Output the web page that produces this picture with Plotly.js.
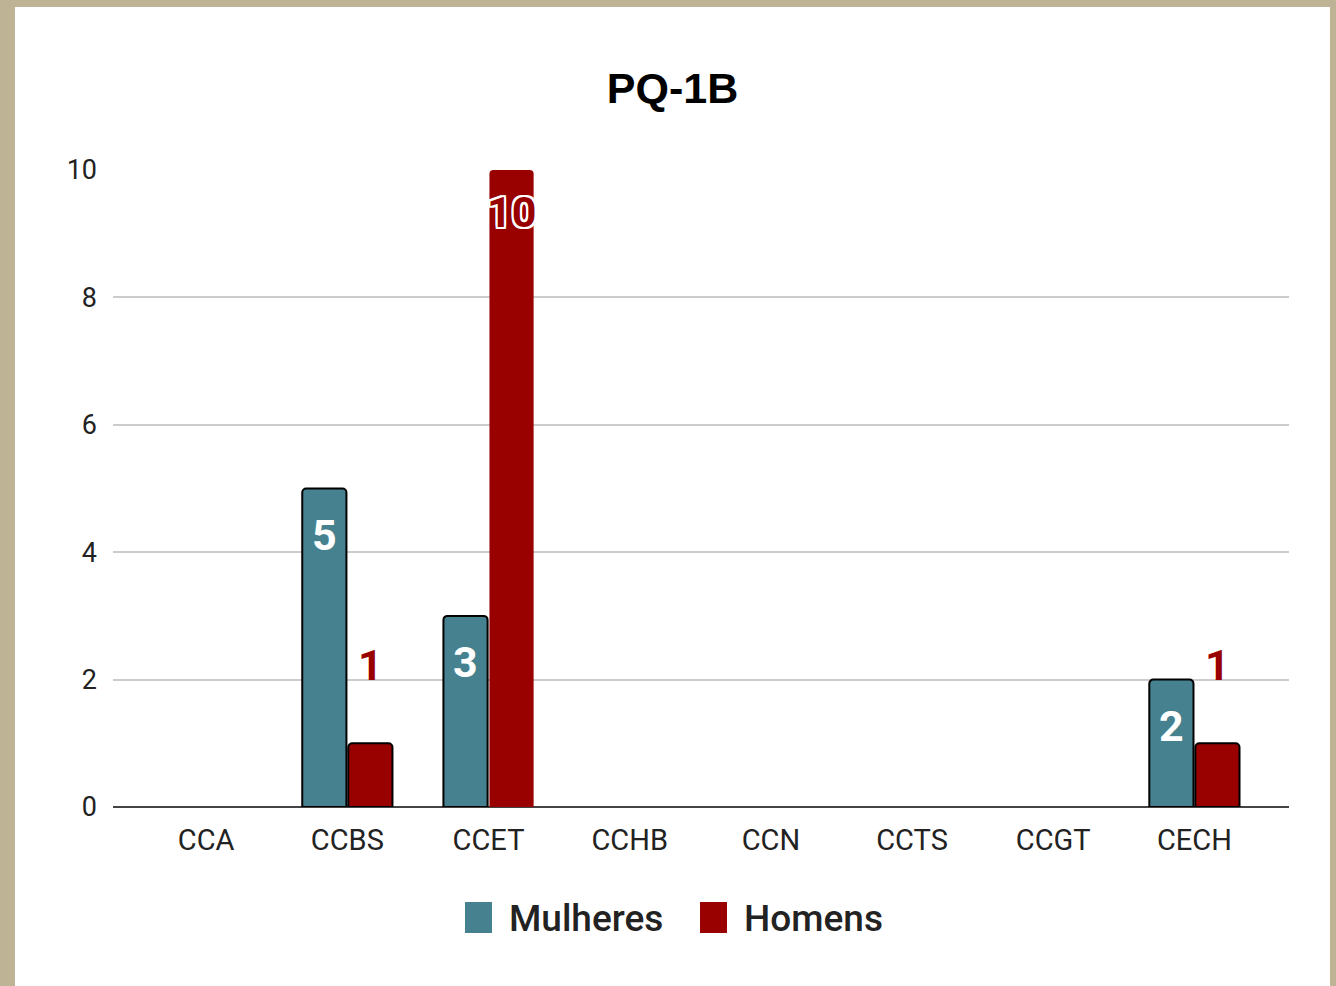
<!DOCTYPE html>
<html>
<head>
<meta charset="utf-8">
<script src="https://cdn.plot.ly/plotly-3.0.1.min.js"></script>
<style>
  html, body { margin: 0; padding: 0; background: #bfb396; width: 1336px; height: 986px; overflow: hidden; }
  #chart { position: absolute; left: 15px; top: 7px; width: 1315px; height: 979px; background: #ffffff; }
</style>
</head>
<body>
<div id="chart"></div>
<script>
// ---- data ----
const categories = ["CCA", "CCBS", "CCET", "CCHB", "CCN", "CCTS", "CCGT", "CECH"];
const seriesNames = ["Mulheres", "Homens"];
const mulheres = [0, 5, 3, 0, 0, 0, 0, 2];
const homens = [0, 1, 10, 0, 0, 0, 0, 1];
const yTicks = [0, 2, 4, 6, 8, 10];
const chartTitle = "PQ-1B";

// ---- styling ----
const colors = ["#45818e", "#990000"];
const fontFam = "Roboto, sans-serif";
const series = [mulheres, homens];

const traces = series.map((vals, s) => ({
  type: "bar",
  name: seriesNames[s],
  x: categories,
  y: vals,
  marker: {
    color: colors[s],
    line: {
      width: vals.map(v => (v > 0 && v < 10 ? 2 : 0)),
      color: "#000000"
    }
  },
  hoverinfo: "x+y+name"
}));

// value labels via annotations anchored to the data
const annotations = [];
const xshift = [-23, 23];
series.forEach((vals, s) => {
  vals.forEach((v, i) => {
    if (!v) return;
    const inside = v >= 2;
    const big = v >= 10;
    annotations.push({
      x: categories[i],
      y: v,
      xref: "x",
      yref: "y",
      text: String(v),
      showarrow: false,
      xshift: xshift[s],
      yshift: inside ? (big ? -42 : -46) : 78,
      xanchor: "center",
      yanchor: "middle",
      font: {
        family: fontFam,
        size: 43,
        weight: "bold",
        color: big ? colors[s] : (inside ? "#ffffff" : colors[s]),
        shadow: big ? "2px 0 0 #fff, -2px 0 0 #fff, 0 2px 0 #fff, 0 -2px 0 #fff, 2px 2px 0 #fff, -2px -2px 0 #fff, 2px -2px 0 #fff, -2px 2px 0 #fff" : "none"
      }
    });
  });
});

// custom legend (large squares)
const shapes = [];
const plotL = 98, plotW = 1176, plotB = 800, plotH = 637;
const px = p => (p - plotL) / plotW;
const py = p => (plotB - p) / plotH;
const legendSq = [450, 685];
const legendTx = [492, 727];
seriesNames.forEach((n, s) => {
  shapes.push({
    type: "rect", xref: "paper", yref: "paper",
    x0: px(legendSq[s]), x1: px(legendSq[s] + 27),
    y0: py(895), y1: py(926),
    fillcolor: colors[s], line: { width: 0 }
  });
  annotations.push({
    xref: "paper", yref: "paper",
    x: px(legendTx[s]), y: py(911),
    xanchor: "left", yanchor: "middle",
    text: n, showarrow: false,
    font: { family: fontFam, size: 37, weight: 500, color: "#222222" }
  });
});

const layout = {
  width: 1315,
  height: 979,
  paper_bgcolor: "#ffffff",
  plot_bgcolor: "#ffffff",
  margin: { l: 98, r: 41, t: 163, b: 179 },
  title: {
    text: "<b>" + chartTitle + "</b>",
    font: { family: "Liberation Sans, Arial, sans-serif", size: 43, color: "#000000" },
    x: 0.5, xref: "container", xanchor: "center",
    y: 1 - 81 / 979, yref: "container", yanchor: "middle"
  },
  barmode: "group",
  bargap: 0.348,
  bargroupgap: 0.04,
  barcornerradius: 4,
  showlegend: false,
  xaxis: {
    type: "category",
    categoryorder: "array",
    categoryarray: categories,
    range: [-0.66, 7.67],
    showgrid: false,
    showline: false,
    zeroline: false,
    ticks: "",
    ticklabelstandoff: 13,
    tickfont: { family: fontFam, size: 29, color: "#222222" },
    fixedrange: true
  },
  yaxis: {
    range: [0, 10],
    tickvals: yTicks,
    ticktext: yTicks.map(String),
    showgrid: true,
    gridcolor: "#cccccc",
    gridwidth: 2,
    zeroline: true,
    zerolinecolor: "#444444",
    zerolinewidth: 2,
    showline: false,
    ticks: "",
    ticklabelstandoff: 15,
    tickfont: { family: fontFam, size: 27, color: "#222222" },
    fixedrange: true
  },
  annotations: annotations,
  shapes: shapes
};

Plotly.newPlot("chart", traces, layout, { displayModeBar: false, staticPlot: true });
</script>
</body>
</html>
